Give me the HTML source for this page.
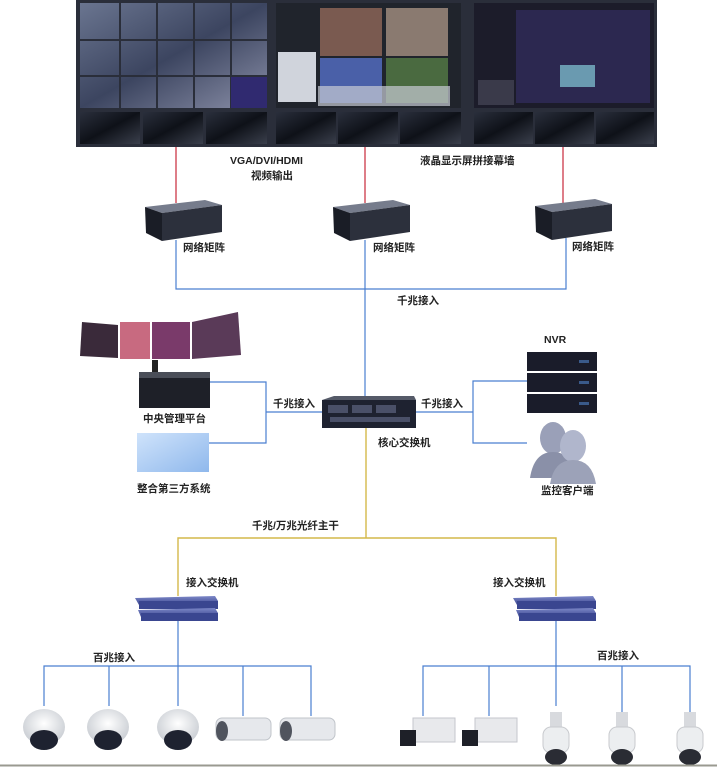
<!DOCTYPE html>
<html><head><meta charset="utf-8"><style>
html,body{margin:0;padding:0;background:#fff;}
svg{display:block}
text{font-family:"Liberation Sans","Noto Sans CJK SC",sans-serif;font-weight:bold;font-size:10.5px;fill:#222}
</style></head><body>
<svg width="717" height="767" viewBox="0 0 717 767" xmlns="http://www.w3.org/2000/svg">
<defs>
<linearGradient id="scr" x1="0" y1="0" x2="1" y2="1"><stop offset="0" stop-color="#6a7590"/><stop offset="0.5" stop-color="#3c4560"/><stop offset="1" stop-color="#8a8fa8"/></linearGradient>
<linearGradient id="low" x1="0" y1="0" x2="1" y2="1"><stop offset="0" stop-color="#2a2f3c"/><stop offset="0.5" stop-color="#0e1118"/><stop offset="1" stop-color="#3a3f4c"/></linearGradient>
<linearGradient id="sw" x1="0" y1="0" x2="0" y2="1"><stop offset="0" stop-color="#7d88c8"/><stop offset="1" stop-color="#3a4690"/></linearGradient>
<linearGradient id="tp" x1="0" y1="0" x2="1" y2="1"><stop offset="0" stop-color="#cfe3fb"/><stop offset="1" stop-color="#8fb8ec"/></linearGradient>
<radialGradient id="dome" cx="0.5" cy="0.4" r="0.6"><stop offset="0" stop-color="#fff"/><stop offset="1" stop-color="#c8ccd2"/></radialGradient>
<g id="mx">
<polygon points="0,7 60,0 77,5 17,13" fill="#767c8c"/>
<polygon points="17,13 77,5 77,32 17,41" fill="#2c303c"/>
<polygon points="0,7 17,13 17,41 1,33" fill="#1a1d26"/>
</g>
</defs>
<!-- video wall -->
<rect x="76" y="0" width="581" height="147" fill="#2a2e3a"/>
<rect x="80" y="3" width="187" height="105" fill="url(#scr)"/>
<g stroke="#2a2e3a" stroke-width="2">
<line x1="80" y1="40" x2="267" y2="40"/><line x1="80" y1="76" x2="267" y2="76"/>
<line x1="120" y1="3" x2="120" y2="108"/><line x1="157" y1="3" x2="157" y2="108"/><line x1="194" y1="3" x2="194" y2="108"/><line x1="231" y1="3" x2="231" y2="108"/>
</g>
<rect x="231" y="77" width="36" height="31" fill="#302a70"/>
<rect x="276" y="3" width="185" height="105" fill="#20242c"/>
<rect x="278" y="52" width="38" height="50" fill="#d0d4dc"/>
<rect x="320" y="8" width="62" height="48" fill="#7a5a50"/><rect x="386" y="8" width="62" height="48" fill="#8a7a70"/>
<rect x="320" y="58" width="62" height="45" fill="#4a60a8"/><rect x="386" y="58" width="62" height="45" fill="#4a6a40"/>
<rect x="318" y="86" width="132" height="20" fill="#c8ccd4" opacity="0.7"/>
<rect x="474" y="3" width="180" height="105" fill="#1c1c2a"/>
<rect x="516" y="10" width="134" height="93" fill="#2c2850"/>
<rect x="478" y="80" width="36" height="25" fill="#3a3a4a"/>
<rect x="560" y="65" width="35" height="22" fill="#6a9ab0"/>
<g fill="url(#low)">
<rect x="80" y="112" width="60" height="32"/><rect x="143" y="112" width="60" height="32"/><rect x="206" y="112" width="61" height="32"/>
<rect x="276" y="112" width="60" height="32"/><rect x="338" y="112" width="60" height="32"/><rect x="400" y="112" width="61" height="32"/>
<rect x="474" y="112" width="59" height="32"/><rect x="535" y="112" width="59" height="32"/><rect x="596" y="112" width="58" height="32"/>
</g>
<!-- red lines -->
<g stroke="#c8283a" stroke-width="1.2"><line x1="176" y1="147" x2="176" y2="203"/><line x1="365" y1="147" x2="365" y2="203"/><line x1="563" y1="147" x2="563" y2="203"/></g>
<text x="230" y="164">VGA/DVI/HDMI</text><text x="251" y="179">视频输出</text>
<text x="420" y="164">液晶显示屏拼接幕墙</text>
<!-- matrix boxes -->
<use href="#mx" x="145" y="200"/><use href="#mx" x="333" y="200"/><use href="#mx" x="535" y="199"/>
<text x="183" y="251">网络矩阵</text><text x="373" y="251">网络矩阵</text><text x="572" y="250">网络矩阵</text>
<!-- blue lines top -->
<g stroke="#4a7fd0" stroke-width="1.2" fill="none">
<polyline points="176,240 176,289 566,289 566,238"/><line x1="365" y1="240" x2="365" y2="397"/>
<polyline points="210,382 266,382 266,443 208,443"/><line x1="266" y1="412" x2="322" y2="412"/>
<line x1="416" y1="412" x2="473" y2="412"/><polyline points="527,381 473,381 473,443 527,443"/>
</g>
<text x="397" y="304">千兆接入</text>
<!-- central mgmt -->
<polygon points="82,322 118,325 118,358 80,356" fill="#3a2a3a"/>
<rect x="120" y="322" width="30" height="37" fill="#c86a80"/><rect x="152" y="322" width="38" height="37" fill="#7a3a6a"/>
<polygon points="192,322 238,312 241,355 192,359" fill="#5a3a58"/>
<rect x="152" y="360" width="6" height="12" fill="#222"/>
<rect x="139" y="372" width="71" height="36" fill="#1e2028"/><rect x="139" y="372" width="71" height="6" fill="#4a4e58"/>
<text x="143" y="422">中央管理平台</text>
<rect x="137" y="433" width="72" height="39" fill="url(#tp)"/>
<text x="137" y="492">整合第三方系统</text>
<!-- core switch -->
<polygon points="322,400 334,396 414,396 416,400" fill="#555a68"/>
<rect x="322" y="400" width="94" height="28" fill="#1e2230"/>
<g fill="#4a5068"><rect x="328" y="405" width="20" height="8"/><rect x="352" y="405" width="20" height="8"/><rect x="376" y="405" width="20" height="8"/><rect x="330" y="417" width="80" height="5"/></g>
<text x="378" y="446">核心交换机</text>
<text x="273" y="407">千兆接入</text><text x="421" y="407">千兆接入</text>
<!-- NVR -->
<text x="544" y="343">NVR</text>
<g fill="#1a1c2a"><rect x="527" y="352" width="70" height="19"/><rect x="527" y="373" width="70" height="19"/><rect x="527" y="394" width="70" height="19"/></g>
<g fill="#3a5a8a"><rect x="579" y="360" width="10" height="3"/><rect x="579" y="381" width="10" height="3"/><rect x="579" y="402" width="10" height="3"/></g>
<!-- faces -->
<ellipse cx="553" cy="438" rx="13" ry="16" fill="#9aa0b8"/><path d="M530,478 Q534,452 553,452 Q572,452 576,478Z" fill="#8a90a8"/>
<ellipse cx="573" cy="446" rx="13" ry="16" fill="#b0b6cc"/><path d="M550,484 Q554,460 573,460 Q592,460 596,484Z" fill="#9ca2b8"/>
<text x="541" y="494">监控客户端</text>
<!-- yellow backbone -->
<g stroke="#d4b84a" stroke-width="1.4" fill="none"><line x1="366" y1="428" x2="366" y2="538"/><polyline points="178,596 178,538 556,538 556,596"/></g>
<text x="252" y="529">千兆/万兆光纤主干</text>
<text x="186" y="586">接入交换机</text><text x="493" y="586">接入交换机</text>
<!-- access switches -->
<g>
<polygon points="135,598 215,596 218,601 139,605" fill="url(#sw)"/><rect x="139" y="601" width="79" height="8" fill="#3a4690"/>
<polygon points="138,610 215,608 218,613 141,617" fill="url(#sw)"/><rect x="141" y="613" width="77" height="8" fill="#3a4690"/>
<polygon points="513,598 593,596 596,601 517,605" fill="url(#sw)"/><rect x="517" y="601" width="79" height="8" fill="#3a4690"/>
<polygon points="516,610 593,608 596,613 519,617" fill="url(#sw)"/><rect x="519" y="613" width="77" height="8" fill="#3a4690"/>
</g>
<!-- blue lower -->
<g stroke="#4a7fd0" stroke-width="1.2" fill="none">
<line x1="178" y1="621" x2="178" y2="706"/><polyline points="44,706 44,666 311,666 311,716"/>
<line x1="109" y1="666" x2="109" y2="706"/><line x1="243" y1="666" x2="243" y2="716"/>
<line x1="556" y1="621" x2="556" y2="706"/><polyline points="423,716 423,666 690,666 690,712"/>
<line x1="489" y1="666" x2="489" y2="716"/><line x1="622" y1="666" x2="622" y2="712"/>
</g>
<text x="93" y="661">百兆接入</text><text x="597" y="659">百兆接入</text>
<!-- domes -->
<g>
<ellipse cx="44" cy="727" rx="21" ry="18" fill="url(#dome)"/><ellipse cx="44" cy="740" rx="14" ry="10" fill="#1e2230"/>
<ellipse cx="108" cy="727" rx="21" ry="18" fill="url(#dome)"/><ellipse cx="108" cy="740" rx="14" ry="10" fill="#1e2230"/>
<ellipse cx="178" cy="727" rx="21" ry="18" fill="url(#dome)"/><ellipse cx="178" cy="740" rx="14" ry="10" fill="#1e2230"/>
</g>
<!-- bullets -->
<g>
<rect x="216" y="718" width="55" height="22" rx="6" fill="#e6e8ec" stroke="#c0c4ca"/><ellipse cx="222" cy="731" rx="6" ry="10" fill="#50545e"/>
<rect x="280" y="718" width="55" height="22" rx="6" fill="#e6e8ec" stroke="#c0c4ca"/><ellipse cx="286" cy="731" rx="6" ry="10" fill="#50545e"/>
</g>
<!-- box cams -->
<g>
<rect x="413" y="718" width="42" height="24" fill="#e8e9ec" stroke="#c4c6cc"/><rect x="400" y="730" width="16" height="16" fill="#1e2028"/>
<rect x="475" y="718" width="42" height="24" fill="#e8e9ec" stroke="#c4c6cc"/><rect x="462" y="730" width="16" height="16" fill="#1e2028"/>
</g>
<!-- PTZ -->
<g>
<rect x="550" y="712" width="12" height="16" fill="#d8dade"/><rect x="543" y="727" width="26" height="26" rx="8" fill="#eceef0" stroke="#c8cace"/><ellipse cx="556" cy="757" rx="11" ry="8" fill="#2a2c34"/>
<rect x="616" y="712" width="12" height="16" fill="#d8dade"/><rect x="609" y="727" width="26" height="26" rx="8" fill="#eceef0" stroke="#c8cace"/><ellipse cx="622" cy="757" rx="11" ry="8" fill="#2a2c34"/>
<rect x="684" y="712" width="12" height="16" fill="#d8dade"/><rect x="677" y="727" width="26" height="26" rx="8" fill="#eceef0" stroke="#c8cace"/><ellipse cx="690" cy="757" rx="11" ry="8" fill="#2a2c34"/>
</g>
<line x1="0" y1="765.5" x2="717" y2="765.5" stroke="#9a9a90" stroke-width="2"/>
</svg>
</body></html>
